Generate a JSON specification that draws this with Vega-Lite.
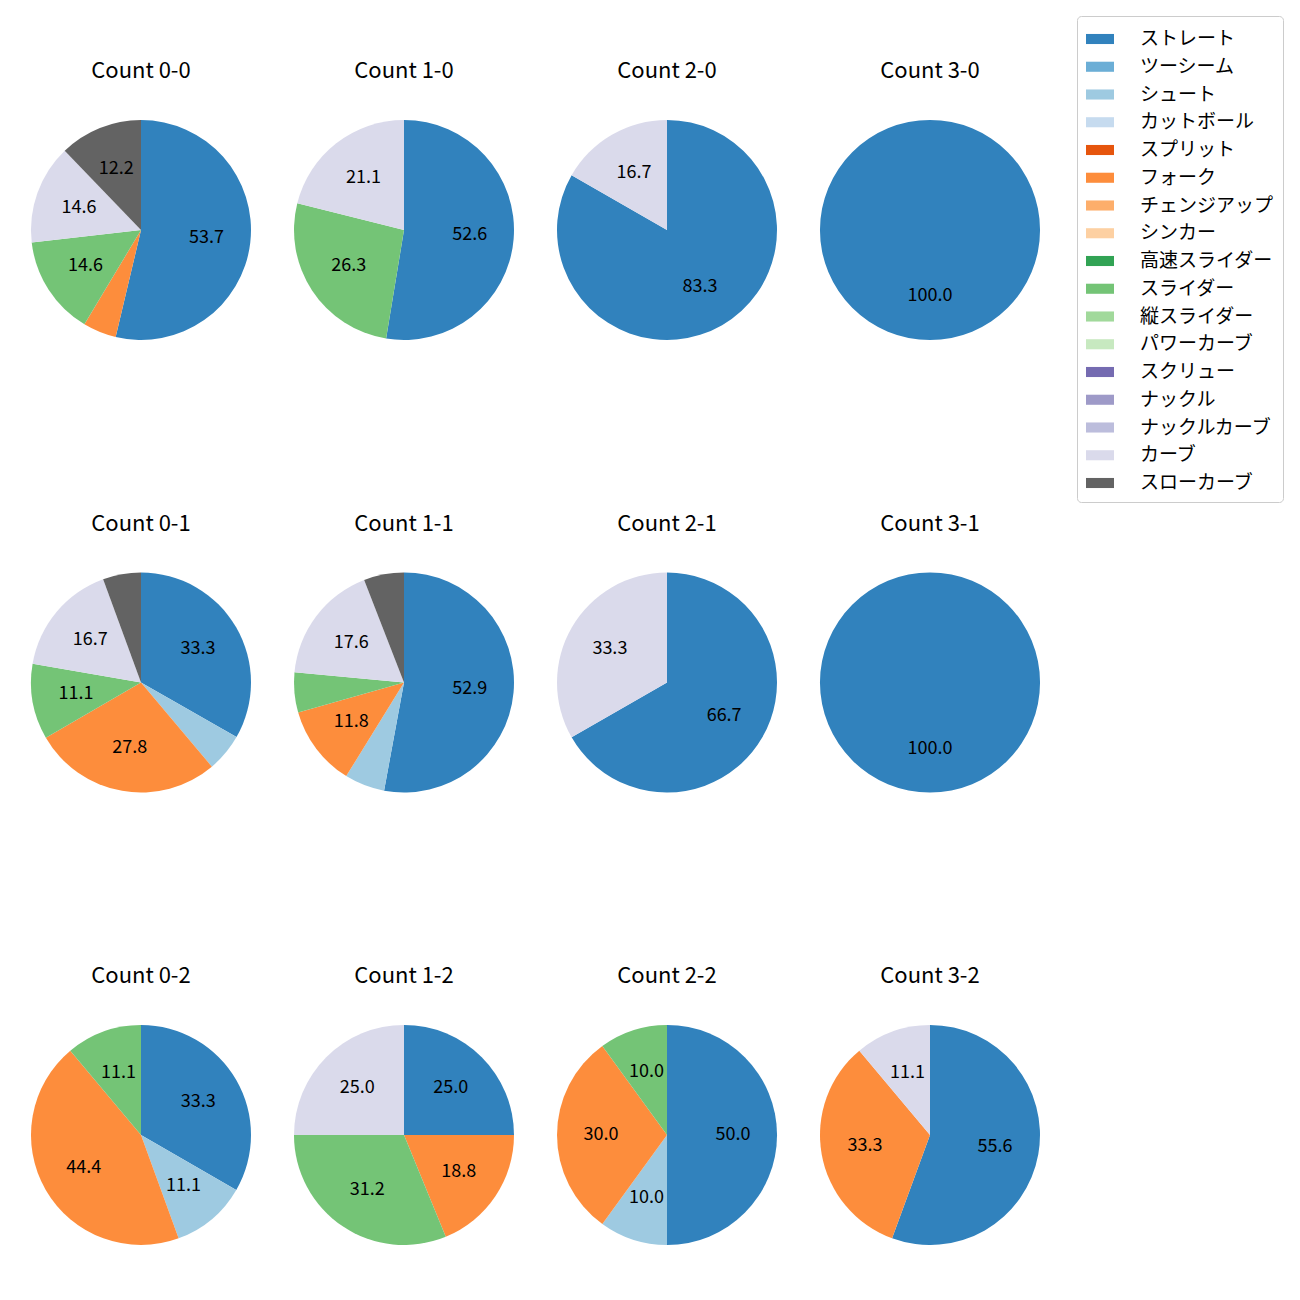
{
  "$schema": "https://vega.github.io/schema/vega-lite/v6.json",
  "padding": {"left": 31, "top": 15, "right": 0, "bottom": 0},
  "background": "white",
  "data": {"values": [
    {"count": "Count 0-0", "pitch": "ストレート", "n": 1, "pct": 53.7},
    {"count": "Count 0-0", "pitch": "フォーク", "n": 6, "pct": 4.9},
    {"count": "Count 0-0", "pitch": "スライダー", "n": 10, "pct": 14.6},
    {"count": "Count 0-0", "pitch": "カーブ", "n": 16, "pct": 14.6},
    {"count": "Count 0-0", "pitch": "スローカーブ", "n": 17, "pct": 12.2},
    {"count": "Count 1-0", "pitch": "ストレート", "n": 1, "pct": 52.6},
    {"count": "Count 1-0", "pitch": "スライダー", "n": 10, "pct": 26.3},
    {"count": "Count 1-0", "pitch": "カーブ", "n": 16, "pct": 21.1},
    {"count": "Count 2-0", "pitch": "ストレート", "n": 1, "pct": 83.3},
    {"count": "Count 2-0", "pitch": "カーブ", "n": 16, "pct": 16.7},
    {"count": "Count 3-0", "pitch": "ストレート", "n": 1, "pct": 100.0},
    {"count": "Count 0-1", "pitch": "ストレート", "n": 1, "pct": 33.3},
    {"count": "Count 0-1", "pitch": "シュート", "n": 3, "pct": 5.6},
    {"count": "Count 0-1", "pitch": "フォーク", "n": 6, "pct": 27.8},
    {"count": "Count 0-1", "pitch": "スライダー", "n": 10, "pct": 11.1},
    {"count": "Count 0-1", "pitch": "カーブ", "n": 16, "pct": 16.7},
    {"count": "Count 0-1", "pitch": "スローカーブ", "n": 17, "pct": 5.6},
    {"count": "Count 1-1", "pitch": "ストレート", "n": 1, "pct": 52.9},
    {"count": "Count 1-1", "pitch": "シュート", "n": 3, "pct": 5.9},
    {"count": "Count 1-1", "pitch": "フォーク", "n": 6, "pct": 11.8},
    {"count": "Count 1-1", "pitch": "スライダー", "n": 10, "pct": 5.9},
    {"count": "Count 1-1", "pitch": "カーブ", "n": 16, "pct": 17.6},
    {"count": "Count 1-1", "pitch": "スローカーブ", "n": 17, "pct": 5.9},
    {"count": "Count 2-1", "pitch": "ストレート", "n": 1, "pct": 66.7},
    {"count": "Count 2-1", "pitch": "カーブ", "n": 16, "pct": 33.3},
    {"count": "Count 3-1", "pitch": "ストレート", "n": 1, "pct": 100.0},
    {"count": "Count 0-2", "pitch": "ストレート", "n": 1, "pct": 33.3},
    {"count": "Count 0-2", "pitch": "シュート", "n": 3, "pct": 11.1},
    {"count": "Count 0-2", "pitch": "フォーク", "n": 6, "pct": 44.4},
    {"count": "Count 0-2", "pitch": "スライダー", "n": 10, "pct": 11.1},
    {"count": "Count 1-2", "pitch": "ストレート", "n": 1, "pct": 25.0},
    {"count": "Count 1-2", "pitch": "フォーク", "n": 6, "pct": 18.8},
    {"count": "Count 1-2", "pitch": "スライダー", "n": 10, "pct": 31.2},
    {"count": "Count 1-2", "pitch": "カーブ", "n": 16, "pct": 25.0},
    {"count": "Count 2-2", "pitch": "ストレート", "n": 1, "pct": 50.0},
    {"count": "Count 2-2", "pitch": "シュート", "n": 3, "pct": 10.0},
    {"count": "Count 2-2", "pitch": "フォーク", "n": 6, "pct": 30.0},
    {"count": "Count 2-2", "pitch": "スライダー", "n": 10, "pct": 10.0},
    {"count": "Count 3-2", "pitch": "ストレート", "n": 1, "pct": 55.6},
    {"count": "Count 3-2", "pitch": "フォーク", "n": 6, "pct": 33.3},
    {"count": "Count 3-2", "pitch": "カーブ", "n": 16, "pct": 11.1}
  ]},
  "columns": 4,
  "spacing": {"row": 172.5, "column": 43},
  "facet": {
    "field": "count", "type": "nominal",
    "sort": ["Count 0-0", "Count 1-0", "Count 2-0", "Count 3-0", "Count 0-1", "Count 1-1", "Count 2-1", "Count 3-1", "Count 0-2", "Count 1-2", "Count 2-2", "Count 3-2"],
    "header": {"title": null, "labelFontSize": 22, "labelFont": "Noto Sans CJK JP", "labelColor": "black", "labelPadding": 37}
  },
  "spec": {
    "width": 220,
    "height": 220,
    "encoding": {
      "theta": {"field": "pct", "type": "quantitative", "stack": true},
      "order": {"field": "n", "type": "quantitative"}
    },
    "layer": [
      {
        "mark": {"type": "arc", "outerRadius": 110},
        "encoding": {
          "color": {
            "field": "pitch", "type": "nominal",
            "scale": {
              "domain": ["ストレート", "ツーシーム", "シュート", "カットボール", "スプリット", "フォーク", "チェンジアップ", "シンカー", "高速スライダー", "スライダー", "縦スライダー", "パワーカーブ", "スクリュー", "ナックル", "ナックルカーブ", "カーブ", "スローカーブ"],
              "range": ["#3182bd", "#6baed6", "#9ecae1", "#c6dbef", "#e6550d", "#fd8d3c", "#fdae6b", "#fdd0a2", "#31a354", "#74c476", "#a1d99b", "#c7e9c0", "#756bb1", "#9e9ac8", "#bcbddc", "#dadaeb", "#636363"]
            },
            "legend": {
              "title": null,
              "orient": "none",
              "legendX": 1046,
              "legendY": -104,
              "values": ["ストレート", "ツーシーム", "シュート", "カットボール", "スプリット", "フォーク", "チェンジアップ", "シンカー", "高速スライダー", "スライダー", "縦スライダー", "パワーカーブ", "スクリュー", "ナックル", "ナックルカーブ", "カーブ", "スローカーブ"],
              "symbolType": "M-1,-0.36H1V0.36H-1Z",
              "symbolSize": 784,
              "symbolStrokeWidth": 0,
              "symbolOpacity": 1,
              "labelFontSize": 19,
              "labelFont": "Noto Sans CJK JP",
              "labelColor": "black",
              "labelOffset": 26,
              "rowPadding": 3.75,
              "padding": 9,
              "strokeColor": "#cccccc",
              "cornerRadius": 4,
              "fillColor": "white"
            }
          }
        }
      },
      {
        "mark": {"type": "text", "radius": 66, "fontSize": 18, "font": "Noto Sans CJK JP", "color": "black"},
        "encoding": {
          "text": {"condition": {"test": "datum.pct >= 10", "field": "pct", "type": "quantitative", "format": ".1f"}, "value": ""}
        }
      }
    ]
  },
  "resolve": {"scale": {"theta": "independent"}},
  "config": {"view": {"stroke": null}}
}
